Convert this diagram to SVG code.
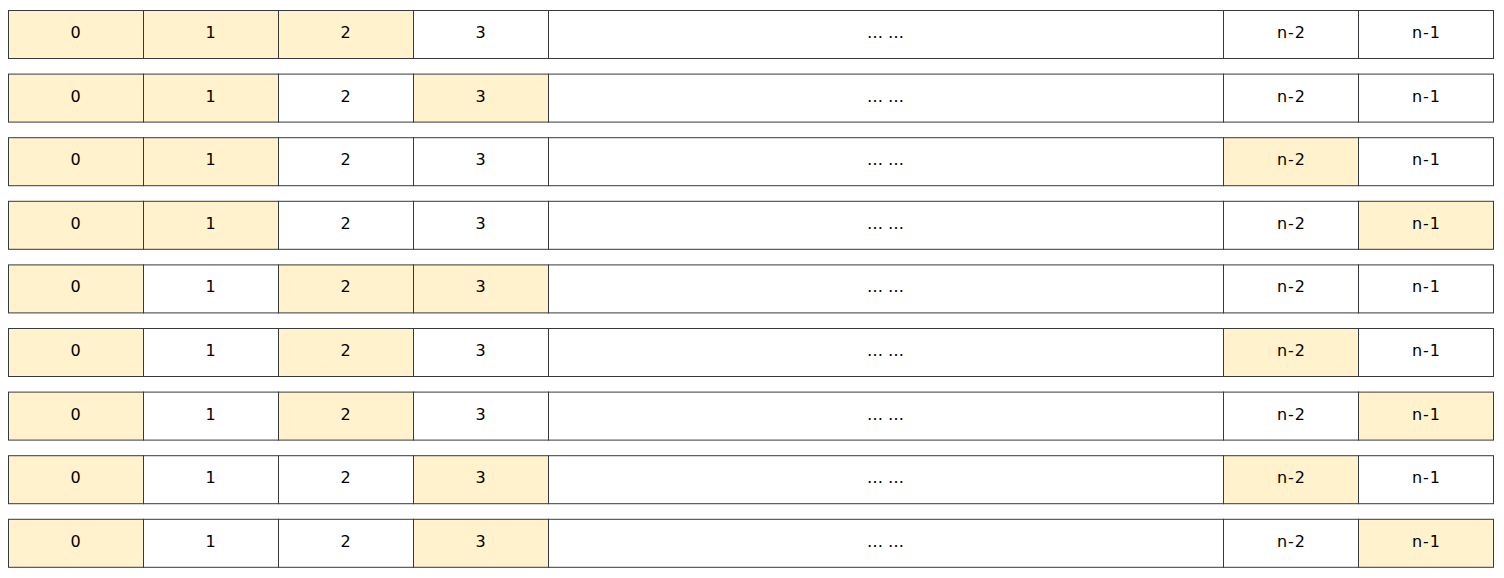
<svg xmlns="http://www.w3.org/2000/svg" width="1504" height="578" viewBox="0 0 1504 578">
<style>
.w,.y{stroke:#36393d;stroke-width:1}
.w{fill:#ffffff}
.y{fill:#fff2cc}
text{font-family:"DejaVu Sans",Verdana,sans-serif;font-size:16px;fill:#000;text-anchor:middle}
</style>
<defs>
<g id="labels">
<text x="75.5" y="38">0</text>
<text x="210.5" y="38">1</text>
<text x="345.5" y="38">2</text>
<text x="480.5" y="38">3</text>
<text x="885.5" y="38">… …</text>
<text x="1291.5" y="38" letter-spacing="1">n-2</text>
<text x="1426.5" y="38" letter-spacing="1">n-1</text>
</g>
</defs>
<g id="row0" transform="translate(0,0)">
<rect class="y" x="8.5" y="10.5" width="135" height="48"/><rect class="y" x="143.5" y="10.5" width="135" height="48"/><rect class="y" x="278.5" y="10.5" width="135" height="48"/><rect class="w" x="413.5" y="10.5" width="135" height="48"/><rect class="w" x="548.5" y="10.5" width="675" height="48"/><rect class="w" x="1223.5" y="10.5" width="135" height="48"/><rect class="w" x="1358.5" y="10.5" width="135" height="48"/>
<use href="#labels"/>
</g>
<g id="row1" transform="translate(0,63.6)">
<rect class="y" x="8.5" y="10.5" width="135" height="48"/><rect class="y" x="143.5" y="10.5" width="135" height="48"/><rect class="w" x="278.5" y="10.5" width="135" height="48"/><rect class="y" x="413.5" y="10.5" width="135" height="48"/><rect class="w" x="548.5" y="10.5" width="675" height="48"/><rect class="w" x="1223.5" y="10.5" width="135" height="48"/><rect class="w" x="1358.5" y="10.5" width="135" height="48"/>
<use href="#labels"/>
</g>
<g id="row2" transform="translate(0,127.2)">
<rect class="y" x="8.5" y="10.5" width="135" height="48"/><rect class="y" x="143.5" y="10.5" width="135" height="48"/><rect class="w" x="278.5" y="10.5" width="135" height="48"/><rect class="w" x="413.5" y="10.5" width="135" height="48"/><rect class="w" x="548.5" y="10.5" width="675" height="48"/><rect class="y" x="1223.5" y="10.5" width="135" height="48"/><rect class="w" x="1358.5" y="10.5" width="135" height="48"/>
<use href="#labels"/>
</g>
<g id="row3" transform="translate(0,190.8)">
<rect class="y" x="8.5" y="10.5" width="135" height="48"/><rect class="y" x="143.5" y="10.5" width="135" height="48"/><rect class="w" x="278.5" y="10.5" width="135" height="48"/><rect class="w" x="413.5" y="10.5" width="135" height="48"/><rect class="w" x="548.5" y="10.5" width="675" height="48"/><rect class="w" x="1223.5" y="10.5" width="135" height="48"/><rect class="y" x="1358.5" y="10.5" width="135" height="48"/>
<use href="#labels"/>
</g>
<g id="row4" transform="translate(0,254.4)">
<rect class="y" x="8.5" y="10.5" width="135" height="48"/><rect class="w" x="143.5" y="10.5" width="135" height="48"/><rect class="y" x="278.5" y="10.5" width="135" height="48"/><rect class="y" x="413.5" y="10.5" width="135" height="48"/><rect class="w" x="548.5" y="10.5" width="675" height="48"/><rect class="w" x="1223.5" y="10.5" width="135" height="48"/><rect class="w" x="1358.5" y="10.5" width="135" height="48"/>
<use href="#labels"/>
</g>
<g id="row5" transform="translate(0,318)">
<rect class="y" x="8.5" y="10.5" width="135" height="48"/><rect class="w" x="143.5" y="10.5" width="135" height="48"/><rect class="y" x="278.5" y="10.5" width="135" height="48"/><rect class="w" x="413.5" y="10.5" width="135" height="48"/><rect class="w" x="548.5" y="10.5" width="675" height="48"/><rect class="y" x="1223.5" y="10.5" width="135" height="48"/><rect class="w" x="1358.5" y="10.5" width="135" height="48"/>
<use href="#labels"/>
</g>
<g id="row6" transform="translate(0,381.6)">
<rect class="y" x="8.5" y="10.5" width="135" height="48"/><rect class="w" x="143.5" y="10.5" width="135" height="48"/><rect class="y" x="278.5" y="10.5" width="135" height="48"/><rect class="w" x="413.5" y="10.5" width="135" height="48"/><rect class="w" x="548.5" y="10.5" width="675" height="48"/><rect class="w" x="1223.5" y="10.5" width="135" height="48"/><rect class="y" x="1358.5" y="10.5" width="135" height="48"/>
<use href="#labels"/>
</g>
<g id="row7" transform="translate(0,445.2)">
<rect class="y" x="8.5" y="10.5" width="135" height="48"/><rect class="w" x="143.5" y="10.5" width="135" height="48"/><rect class="w" x="278.5" y="10.5" width="135" height="48"/><rect class="y" x="413.5" y="10.5" width="135" height="48"/><rect class="w" x="548.5" y="10.5" width="675" height="48"/><rect class="y" x="1223.5" y="10.5" width="135" height="48"/><rect class="w" x="1358.5" y="10.5" width="135" height="48"/>
<use href="#labels"/>
</g>
<g id="row8" transform="translate(0,508.8)">
<rect class="y" x="8.5" y="10.5" width="135" height="48"/><rect class="w" x="143.5" y="10.5" width="135" height="48"/><rect class="w" x="278.5" y="10.5" width="135" height="48"/><rect class="y" x="413.5" y="10.5" width="135" height="48"/><rect class="w" x="548.5" y="10.5" width="675" height="48"/><rect class="w" x="1223.5" y="10.5" width="135" height="48"/><rect class="y" x="1358.5" y="10.5" width="135" height="48"/>
<use href="#labels"/>
</g>
</svg>
